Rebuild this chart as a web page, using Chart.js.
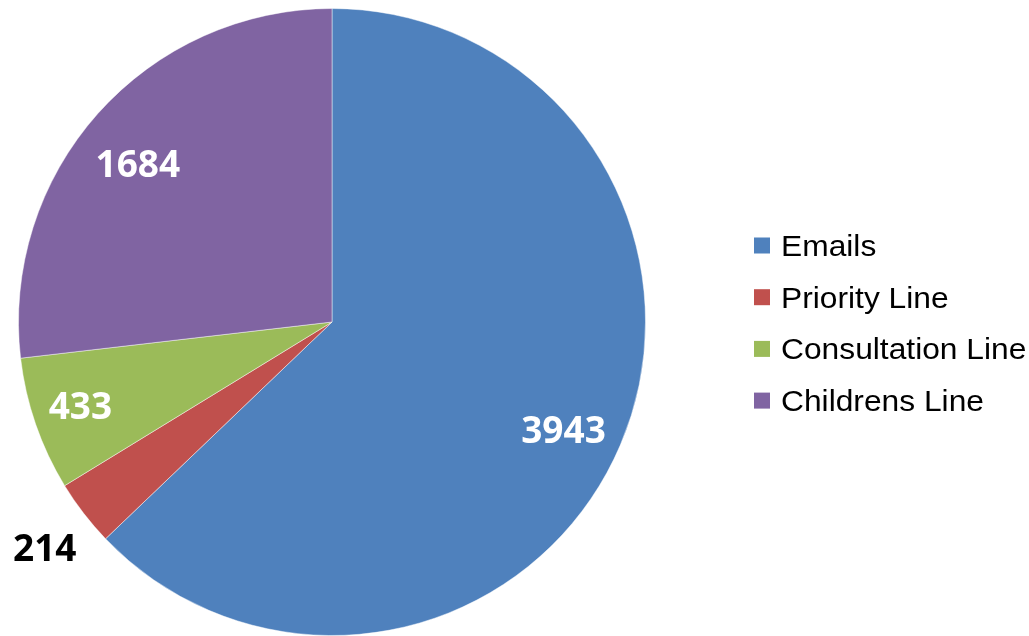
<!DOCTYPE html>
<html>
<head>
<meta charset="utf-8">
<script src="https://cdn.jsdelivr.net/npm/chart.js@4"></script>
<style>
  html, body { margin: 0; padding: 0; background: #fff; }
  canvas { display: block; }
</style>
</head>
<body>
<canvas id="pieChart" width="1029" height="636"></canvas>
<script>
const categories = ["Emails", "Priority Line", "Consultation Line", "Childrens Line"];
const counts = [3943, 214, 433, 1684];
const sliceColors = ["#4F81BD", "#C0504D", "#9BBB59", "#8064A2"];

// label placement: fraction of radius, small turn (degrees) off the slice middle, colour
const labelRadius = [0.815, 1.166, 0.846, 0.798];
const labelTurn = [1.9, -0.6, 0.6, -2.6];
const labelColors = ["#fff", "#000", "#fff", "#fff"];

const valueLabels = {
  id: "valueLabels",
  afterDatasetsDraw(chart) {
    const { ctx } = chart;
    const meta = chart.getDatasetMeta(0);
    const size = 37;
    ctx.save();
    ctx.font = "bold " + size + "px 'Open Sans'";
    ctx.textAlign = "center";
    ctx.textBaseline = "alphabetic";
    meta.data.forEach((arc, i) => {
      const mid = (arc.startAngle + arc.endAngle) / 2 + labelTurn[i] * Math.PI / 180;
      const r = arc.outerRadius * labelRadius[i];
      ctx.fillStyle = labelColors[i];
      // digits are ~0.714em tall, so drop the baseline by half that to centre them
      ctx.fillText(String(counts[i]), arc.x + Math.cos(mid) * r, arc.y + Math.sin(mid) * r + size * 0.357);
    });
    ctx.restore();
  }
};

const sideLegend = {
  id: "sideLegend",
  afterDraw(chart) {
    const { ctx } = chart;
    const x = 754, y0 = 245.5, gap = 51.7, box = 16;
    ctx.save();
    ctx.font = "29px 'Liberation Sans'";
    ctx.textBaseline = "alphabetic";
    categories.forEach((name, i) => {
      const y = y0 + i * gap;
      ctx.fillStyle = sliceColors[i];
      ctx.fillRect(x, y - box / 2, box, box);
      ctx.fillStyle = "#000";
      ctx.save();
      ctx.translate(x + 27, y + 10.3);
      ctx.scale(1.095, 1);
      ctx.fillText(name, 0, 0);
      ctx.restore();
    });
    ctx.restore();
  }
};

const ctx = document.getElementById("pieChart").getContext("2d");

new Chart(ctx, {
  type: "pie",
  data: {
    labels: categories,
    datasets: [{
      data: counts,
      backgroundColor: sliceColors,
      borderColor: "rgba(255,255,255,0.45)",
      borderWidth: 1
    }]
  },
  options: {
    responsive: false,
    animation: false,
    layout: { padding: { left: 18, right: 383, top: 8, bottom: 0 } },
    plugins: {
      legend: { display: false },
      tooltip: { enabled: false }
    }
  },
  plugins: [valueLabels, sideLegend]
});
</script>
</body>
</html>
